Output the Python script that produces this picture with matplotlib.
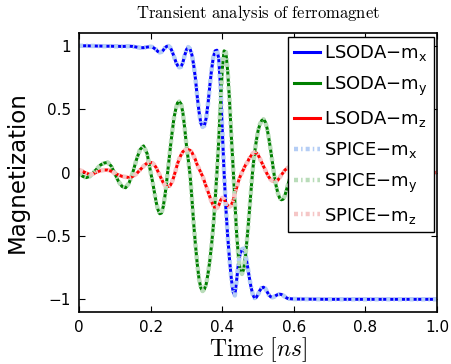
import numpy as np
import matplotlib
matplotlib.use('Agg')
import matplotlib.pyplot as plt

plt.rcParams['mathtext.fontset'] = 'cm'
plt.rcParams['font.family'] = 'DejaVu Sans'
plt.rcParams['lines.scale_dashes'] = False

# time samples [ns]
t = np.round(np.concatenate([np.arange(0.0, 0.2001, 0.01),
                             np.arange(0.205, 0.6001, 0.005),
                             np.arange(0.65, 1.0001, 0.05)]), 3)

mx = [1.0, 1.0, 1.0, 0.999, 0.999, 0.998, 0.998, 0.997, 0.997, 0.997, 0.996,
      0.996, 0.995, 0.996, 0.997, 0.995, 0.99, 0.985, 0.985, 0.99, 0.993,
      # 0.205 .. 0.60
      0.99, 0.98, 0.97, 0.955, 0.948, 0.952, 0.965, 0.985, 0.996, 0.998,
      0.985, 0.955, 0.915, 0.875, 0.845, 0.83, 0.835, 0.87, 0.925, 0.97,
      0.99, 0.975, 0.93, 0.85, 0.74, 0.6, 0.48, 0.39, 0.36, 0.37,
      0.43, 0.54, 0.68, 0.81, 0.91, 0.96, 0.965, 0.9, 0.68, 0.33,
      0.0, -0.28, -0.5, -0.68, -0.83, -0.94, -0.97, -0.85, -0.72, -0.64,
      -0.605, -0.6, -0.65, -0.73, -0.82, -0.9, -0.96, -0.99, -0.985, -0.96,
      -0.93, -0.91, -0.905, -0.915, -0.94, -0.965, -0.98, -0.985, -0.98, -0.97,
      -0.963, -0.96, -0.962, -0.97, -0.98, -0.99, -0.995, -0.996, -0.997, -0.998,
      # 0.65 .. 1.0
      -0.999, -1.0, -1.0, -1.0, -1.0, -1.0, -1.0, -1.0]

my = [0.0, -0.03, -0.04, -0.03, 0.0, 0.03, 0.06, 0.075, 0.08, 0.05, -0.01,
      -0.07, -0.11, -0.12, -0.08, 0.0, 0.1, 0.18, 0.21, 0.15, 0.0,
      -0.07, -0.15, -0.23, -0.29, -0.325, -0.32, -0.27, -0.18, -0.06, 0.07,
      0.2, 0.32, 0.43, 0.5, 0.55, 0.56, 0.54, 0.47, 0.35, 0.21,
      0.1, -0.02, -0.2, -0.4, -0.57, -0.72, -0.84, -0.91, -0.935, -0.92,
      -0.88, -0.8, -0.7, -0.57, -0.42, -0.22, 0.0, 0.25, 0.55, 0.82,
      0.96, 0.95, 0.8, 0.58, 0.3, 0.05, -0.22, -0.48, -0.66, -0.77,
      -0.8, -0.76, -0.65, -0.5, -0.33, -0.15, 0.02, 0.15, 0.25, 0.33,
      0.38, 0.41, 0.42, 0.4, 0.35, 0.27, 0.18, 0.08, -0.02, -0.1,
      -0.16, -0.2, -0.215, -0.21, -0.18, -0.13, -0.08, -0.03, 0.0, 0.03,
      0.06, -0.04, 0.02, -0.01, 0.01, 0.0, 0.0, 0.0]

mz = [0.02, 0.01, -0.005, -0.015, -0.01, 0.005, 0.015, 0.02, 0.02, 0.01, -0.005,
      -0.02, -0.03, -0.035, -0.04, -0.03, -0.01, 0.02, 0.05, 0.075, 0.08,
      0.075, 0.06, 0.04, 0.01, -0.02, -0.05, -0.08, -0.1, -0.11, -0.11,
      -0.1, -0.07, -0.03, 0.02, 0.07, 0.11, 0.14, 0.165, 0.175, 0.18,
      0.18, 0.175, 0.16, 0.13, 0.1, 0.06, 0.03, 0.0, -0.03, -0.07,
      -0.11, -0.15, -0.19, -0.23, -0.26, -0.28, -0.28, -0.26, -0.22, -0.2,
      -0.21, -0.24, -0.26, -0.27, -0.26, -0.22, -0.17, -0.12, -0.07, -0.03,
      0.0, 0.03, 0.06, 0.08, 0.11, 0.13, 0.15, 0.16, 0.155, 0.14,
      0.11, 0.08, 0.05, 0.02, -0.01, -0.035, -0.055, -0.065, -0.07, -0.07,
      -0.06, -0.04, -0.02, 0.0, 0.02, 0.03, 0.04, 0.045, 0.05, 0.05,
      0.03, -0.02, 0.01, -0.01, 0.0, 0.0, 0.0, 0.0]

labels = ['x', 'y', 'z']
dark = ['#0000ff', '#008000', '#ff0000']
light = ['#b4cdf5', '#b9dcb9', '#f5c6c6']

fig = plt.figure(figsize=(4.52, 3.64), dpi=100)
ax = fig.add_axes([0.175, 0.143, 0.792, 0.766])

series = [mx, my, mz]
for s, c, l in zip(series, dark, labels):
    ax.plot(t, s, color=c, lw=2.2, label='LSODA$\\mathregular{-m_' + l + '}$')
for s, c, l in zip(series, light, labels):
    ax.plot(t, s, color=c, lw=3.2, linestyle=(0, (2.9, 2.2, 1.1, 2.2)),
            label='SPICE$\\mathregular{-m_' + l + '}$')

ax.set_xlim(0, 1)
ax.set_ylim(-1.1, 1.1)
ax.set_xticks([0, 0.2, 0.4, 0.6, 0.8, 1.0])
ax.set_xticklabels(['0', '0.2', '0.4', '0.6', '0.8', '1.0'])
ax.set_yticks([-1, -0.5, 0, 0.5, 1])
ax.set_yticklabels(['\u22121', '\u22120.5', '0', '0.5', '1'])
ax.tick_params(direction='in', top=True, right=True, length=4, width=0.8,
               labelsize=11, pad=6)
for sp in ax.spines.values():
    sp.set_linewidth(1.2)

ax.set_title(r'$\mathrm{Transient\ analysis\ of\ ferromagnet}$', fontsize=12, pad=11)
ax.set_xlabel(r'$\mathrm{Time}\ [ns]$', fontsize=17, labelpad=0)
ax.set_ylabel('Magnetization', fontsize=16.5, labelpad=4)

leg = ax.legend(loc='upper right', bbox_to_anchor=(0.992, 0.986), borderaxespad=0,
                fontsize=13, handlelength=1.4, handletextpad=0.25, labelspacing=0.62,
                fancybox=False, framealpha=1, edgecolor='black', borderpad=0.35)
leg.get_frame().set_linewidth(1.0)

fig.savefig('out.png', dpi=100)
